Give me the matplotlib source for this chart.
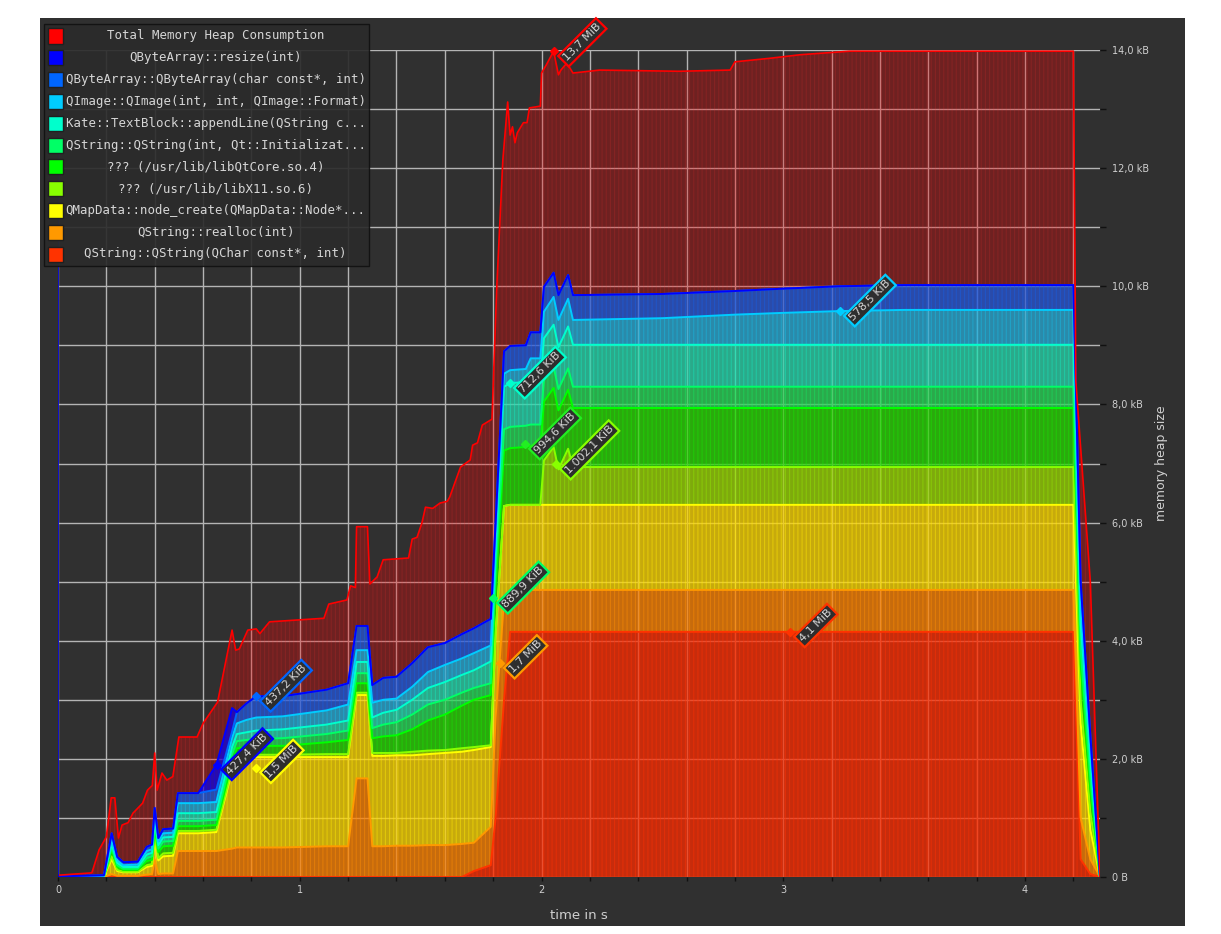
import matplotlib
matplotlib.use("Agg")
import matplotlib.pyplot as plt
import numpy as np
from matplotlib.colors import to_rgba
from matplotlib.patches import Rectangle
from matplotlib.ticker import FuncFormatter, MultipleLocator

W, H = 1221, 934
BG = "#303030"

# total heap consumption (its own snapshot times, seconds / "kB" axis units)
total_t = [0.00, 0.14, 0.17, 0.20, 0.22, 0.235, 0.25, 0.265, 0.29, 0.31,
           0.35, 0.37, 0.39, 0.40, 0.41, 0.43, 0.45, 0.475, 0.50, 0.575,
           0.60, 0.66, 0.72, 0.735, 0.75, 0.785, 0.82, 0.835, 0.875, 1.10,
           1.12, 1.195, 1.21, 1.23, 1.235, 1.28, 1.29, 1.32, 1.345, 1.45,
           1.465, 1.485, 1.505, 1.52, 1.55, 1.58, 1.61, 1.62, 1.665, 1.705,
           1.715, 1.735, 1.755, 1.795, 1.815, 1.84, 1.86, 1.87, 1.88, 1.89,
           1.90, 1.925, 1.94, 1.95, 1.995, 2.00, 2.02, 2.05, 2.07, 2.08,
           2.105, 2.13, 2.24, 2.57, 2.78, 2.80, 2.945, 3.07, 3.275, 4.20,
           4.21, 4.27, 4.31]
total_v = [0.03, 0.07, 0.46, 0.68, 1.34, 1.34, 0.66, 0.88, 0.92, 1.08,
           1.25, 1.47, 1.55, 2.10, 1.47, 1.76, 1.64, 1.70, 2.37, 2.37,
           2.60, 2.96, 4.18, 3.84, 3.86, 4.18, 4.20, 4.12, 4.32, 4.38,
           4.62, 4.69, 4.93, 4.90, 5.93, 5.93, 4.96, 5.08, 5.37, 5.40,
           5.72, 5.75, 5.99, 6.26, 6.24, 6.33, 6.36, 6.43, 6.94, 7.06,
           7.31, 7.35, 7.65, 7.75, 10.0, 12.14, 13.12, 12.56, 12.70, 12.43,
           12.60, 12.77, 12.77, 13.02, 13.05, 13.61, 13.75, 13.98, 13.58, 13.66,
           13.78, 13.61, 13.66, 13.64, 13.66, 13.80, 13.86, 13.92, 13.98, 13.98,
           8.40, 5.00, 0.00]

# snapshot times for the per-allocator layers
snap_t = [0.00, 0.19, 0.222, 0.245, 0.27, 0.33, 0.367, 0.389, 0.40, 0.415,
          0.435, 0.476, 0.496, 0.58, 0.655, 0.72, 0.74, 0.78, 0.82, 0.93,
          1.11, 1.20, 1.235, 1.28, 1.30, 1.345, 1.40, 1.465, 1.53, 1.60,
          1.67, 1.72, 1.79, 1.81, 1.845, 1.87, 1.935, 1.955, 1.995, 2.01,
          2.05, 2.07, 2.11, 2.13, 2.50, 2.80, 3.00, 3.23, 3.50, 4.20,
          4.23, 4.27, 4.31]

qchar = [0, 0, 0, 0, 0, 0, 0, 0, 0, 0,
         0, 0, 0, 0, 0, 0, 0, 0, 0, 0,
         0, 0, 0, 0, 0, 0, 0, 0, 0, 0,
         0, 0.10, 0.20, 1.00, 3.00, 4.15, 4.15, 4.15, 4.15, 4.15,
         4.15, 4.15, 4.15, 4.15, 4.15, 4.15, 4.15, 4.15, 4.15, 4.15,
         0.30, 0.05, 0]
realloc = [0, 0, 0.05, 0.02, 0.02, 0.02, 0.04, 0.05, 0.30, 0.05,
           0.06, 0.06, 0.44, 0.44, 0.44, 0.48, 0.50, 0.50, 0.50, 0.50,
           0.52, 0.52, 1.67, 1.67, 0.52, 0.52, 0.53, 0.53, 0.54, 0.54,
           0.56, 0.48, 0.65, 1.70, 1.70, 0.71, 0.71, 0.71, 0.71, 0.71,
           0.71, 0.71, 0.71, 0.71, 0.71, 0.71, 0.71, 0.71, 0.71, 0.71,
           0.70, 0.25, 0]
qmap = [0, 0.01, 0.25, 0.08, 0.06, 0.06, 0.13, 0.14, 0.32, 0.23,
        0.29, 0.30, 0.30, 0.30, 0.32, 1.32, 1.53, 1.53, 1.53, 1.53,
        1.51, 1.51, 1.41, 1.41, 1.53, 1.53, 1.53, 1.53, 1.54, 1.56,
        1.56, 1.57, 1.35, 1.40, 1.58, 1.44, 1.44, 1.44, 1.44, 1.44,
        1.44, 1.44, 1.44, 1.44, 1.44, 1.44, 1.44, 1.44, 1.44, 1.44,
        1.60, 0.50, 0]
x11 = [0, 0, 0.05, 0.02, 0.01, 0.01, 0.03, 0.03, 0.08, 0.04,
       0.05, 0.05, 0.04, 0.04, 0.04, 0.04, 0.03, 0.03, 0.04, 0.04,
       0.05, 0.05, 0.04, 0.04, 0.05, 0.05, 0.04, 0.06, 0.06, 0.05,
       0.06, 0.05, 0.03, 0.02, 0, 0, 0, 0, 0, 0.75,
       0.98, 0.60, 0.95, 0.64, 0.64, 0.64, 0.64, 0.64, 0.64, 0.64,
       0.40, 0.30, 0]
qtcore = [0, 0, 0.10, 0.05, 0.03, 0.03, 0.07, 0.07, 0.12, 0.10,
          0.12, 0.12, 0.08, 0.08, 0.08, 0.12, 0.12, 0.14, 0.15, 0.15,
          0.20, 0.24, 0.16, 0.16, 0.25, 0.28, 0.30, 0.38, 0.51, 0.60,
          0.72, 0.80, 0.85, 0.78, 0.94, 0.96, 0.98, 1.00, 1.00, 1.00,
          1.00, 1.00, 1.00, 1.00, 1.00, 1.00, 1.00, 1.00, 1.00, 1.00,
          0.60, 0.40, 0]
qstring_init = [0, 0, 0.05, 0.03, 0.02, 0.02, 0.05, 0.06, 0.08, 0.06,
                0.08, 0.08, 0.09, 0.09, 0.09, 0.12, 0.12, 0.12, 0.12, 0.13,
                0.14, 0.16, 0.17, 0.17, 0.17, 0.20, 0.22, 0.25, 0.27, 0.25,
                0.22, 0.20, 0.20, 0.30, 0.36, 0.36, 0.36, 0.36, 0.36, 0.36,
                0.36, 0.36, 0.36, 0.36, 0.36, 0.36, 0.36, 0.36, 0.36, 0.36,
                0.25, 0.20, 0]
kate = [0, 0, 0.06, 0.04, 0.03, 0.03, 0.06, 0.06, 0.08, 0.06,
        0.07, 0.07, 0.13, 0.13, 0.13, 0.12, 0.12, 0.13, 0.14, 0.15,
        0.16, 0.17, 0.19, 0.19, 0.18, 0.20, 0.21, 0.25, 0.28, 0.30,
        0.30, 0.30, 0.37, 0.30, 0.72, 0.74, 0.74, 0.74, 0.74, 0.71,
        0.71, 0.71, 0.71, 0.71, 0.71, 0.71, 0.71, 0.71, 0.71, 0.71,
        0.45, 0.30, 0]
qimage = [0, 0.01, 0.06, 0.04, 0.03, 0.04, 0.06, 0.06, 0.08, 0.06,
          0.07, 0.07, 0.17, 0.17, 0.17, 0.16, 0.18, 0.21, 0.22, 0.22,
          0.24, 0.27, 0.20, 0.20, 0.25, 0.22, 0.19, 0.22, 0.27, 0.29,
          0.28, 0.29, 0.27, 0.25, 0.22, 0.22, 0.22, 0.38, 0.38, 0.45,
          0.47, 0.46, 0.47, 0.42, 0.45, 0.51, 0.54, 0.57, 0.59, 0.59,
          0.30, 0.20, 0]
qbytearray = [0.01, 0.01, 0.12, 0.06, 0.05, 0.05, 0.07, 0.08, 0.11, 0.06,
              0.07, 0.07, 0.17, 0.17, 0.21, 0.10, 0.19, 0.28, 0.36, 0.34,
              0.35, 0.36, 0.41, 0.41, 0.30, 0.37, 0.37, 0.40, 0.42, 0.37,
              0.41, 0.42, 0.45, 0.25, 0.38, 0.41, 0.40, 0.44, 0.44, 0.42,
              0.41, 0.42, 0.40, 0.42, 0.41, 0.40, 0.41, 0.42, 0.42, 0.42,
              0.40, 0.20, 0]
resize = [0, 0, 0, 0, 0, 0, 0, 0, 0, 0,
          0, 0, 0, 0, 0.42, 0.40, 0, 0, 0, 0,
          0, 0, 0, 0, 0, 0, 0, 0, 0, 0,
          0, 0, 0, 0, 0, 0, 0, 0, 0, 0,
          0, 0, 0, 0, 0, 0, 0, 0, 0, 0,
          0, 0, 0]

# bottom-to-top stacking order
layers = [qchar, realloc, qmap, x11, qtcore, qstring_init, kate, qimage,
          qbytearray, resize]
layer_colors = ["#ff3300", "#ff9900", "#ffff00", "#88ff00", "#00ff00",
                "#00ff66", "#00ffcc", "#00ccff", "#0066ff", "#0000ff"]

legend_names = [
    "Total Memory Heap Consumption",
    "QByteArray::resize(int)",
    "QByteArray::QByteArray(char const*, int)",
    "QImage::QImage(int, int, QImage::Format)",
    "Kate::TextBlock::appendLine(QString c...",
    "QString::QString(int, Qt::Initializat...",
    "??? (/usr/lib/libQtCore.so.4)",
    "??? (/usr/lib/libX11.so.6)",
    "QMapData::node_create(QMapData::Node*...",
    "QString::realloc(int)",
    "QString::QString(QChar const*, int)",
]
legend_colors = ["#ff0000"] + layer_colors[::-1]

# peak annotations
note_labels = ["13,7 MiB", "578,5 KiB", "712,6 KiB", "994,6 KiB", "1.002,1 KiB",
               "889,9 KiB", "1,7 MiB", "437,2 KiB", "427,4 KiB", "1,5 MiB",
               "4,1 MiB"]
note_t = [2.052, 3.235, 1.87, 1.932, 2.06, 1.80, 1.828, 0.819, 0.658, 0.82, 3.028]
note_v = [13.98, 9.58, 8.36, 7.33, 6.99, 4.72, 3.62, 3.06, 1.90, 1.85, 4.15]
note_colors = ["#ff0000", "#00ccff", "#00ffcc", "#22ee22", "#88ff00",
               "#00ff66", "#ff9900", "#0066ff", "#0000ff", "#ffff00", "#ff3300"]


def fig_xy(x, y):
    return x / W, 1 - y / H


def main() -> None:
    plt.rcParams["hatch.linewidth"] = 0.8
    fig = plt.figure(figsize=(W / 100, H / 100), dpi=100, facecolor="white")
    fig.add_artist(Rectangle(fig_xy(40, 926), (1185 - 40) / W, (926 - 18) / H,
                             transform=fig.transFigure, facecolor=BG,
                             edgecolor="none", zorder=-5))

    ax = fig.add_axes([58 / W, 1 - 877 / H, (1100 - 58) / W, (877 - 50) / H])
    ax.set_facecolor(BG)

    t = np.array(snap_t)
    tops = np.cumsum(np.array(layers, dtype=float), axis=0)

    # total heap area
    ax.fill_between(total_t, 0, total_v, facecolor=to_rgba("#ff0000", 0.30),
                    edgecolor=to_rgba("#ff3030", 0.16), hatch="||||",
                    linewidth=0, zorder=1)

    for i, color in enumerate(layer_colors):
        bottom = tops[i - 1] if i > 0 else np.zeros_like(t)
        ax.fill_between(t, bottom, tops[i], facecolor=to_rgba(color, 0.62),
                        edgecolor=to_rgba(color, 0.35), hatch="||||",
                        linewidth=0, zorder=2)
    for i, color in enumerate(layer_colors):
        ax.plot(t, tops[i], color=color, lw=1.4, zorder=3)

    ax.plot(total_t, total_v, color="#ff0000", lw=1.2, zorder=4)
    ax.axvline(0, color="#0000cc", lw=1.3, zorder=4)

    ax.set_xlim(0, 4.31)
    ax.set_ylim(0, 14.0)

    ax.set_axisbelow(True)
    ax.xaxis.set_major_locator(MultipleLocator(1))
    ax.xaxis.set_minor_locator(MultipleLocator(0.2))
    ax.yaxis.set_major_locator(MultipleLocator(2))
    ax.yaxis.set_minor_locator(MultipleLocator(1))
    ax.grid(which="both", color="#b4b4b4", linewidth=1.0)
    ax.xaxis.set_major_formatter(FuncFormatter(lambda v, p: f"{v:.0f}"))
    ax.yaxis.set_major_formatter(FuncFormatter(
        lambda v, p: "0 B" if v == 0 else f"{v:.1f} kB".replace(".", ",")))
    ax.yaxis.tick_right()
    ax.tick_params(which="both", direction="out", color="#111111",
                   labelcolor="#cfcfcf", labelsize=7, length=4, width=1)
    ax.tick_params(axis="x", which="both", length=3, pad=3)
    ax.tick_params(axis="y", which="both", pad=5)
    for spine in ax.spines.values():
        spine.set_visible(False)

    ax.set_xlabel("time in s", color="#cfcfcf", fontsize=9.5)
    ax.xaxis.set_label_coords(0.5, -0.046)
    ax.xaxis.label.set_va("center")
    ax.yaxis.set_label_position("right")
    ax.set_ylabel("memory heap size", color="#cfcfcf", fontsize=9)
    ax.yaxis.set_label_coords((1162 - 58) / (1100 - 58), 0.5)
    ax.yaxis.label.set_va("center")
    ax.yaxis.label.set_ha("center")

    for label, nt, nv, color in zip(note_labels, note_t, note_v, note_colors):
        ax.plot(nt, nv, marker="D", ms=4, color=color, zorder=5, clip_on=False)
        ax.annotate(label, (nt, nv), xytext=(8, -6), textcoords="offset points",
                    rotation=45, rotation_mode="anchor", ha="left", va="center",
                    fontsize=8, color="#d8d8d8", zorder=6,
                    bbox=dict(boxstyle="square,pad=0.22", facecolor="#2e2e2e",
                              edgecolor=color, linewidth=1.6))

    # legend drawn by hand: centred monospace rows
    fig.add_artist(Rectangle(fig_xy(44, 266), (369 - 44) / W, (266 - 24) / H,
                             transform=fig.transFigure, facecolor="#2b2b2b",
                             edgecolor="#111111", linewidth=1.0, alpha=0.92,
                             zorder=10))
    for i, (name, color) in enumerate(zip(legend_names, legend_colors)):
        yc = 36 + 21.8 * i
        fig.add_artist(Rectangle(fig_xy(48, yc + 7.5), 15 / W, 15 / H,
                                 transform=fig.transFigure, facecolor=color,
                                 edgecolor="#202020", linewidth=1.0, zorder=11))
        fig.text(*fig_xy(215.5, yc), name, ha="center", va="center",
                 family="DejaVu Sans Mono", fontsize=8.9, color="#d6d6d6",
                 zorder=12)

    fig.savefig("out.png", dpi=100, facecolor="white")
    plt.close(fig)


if __name__ == "__main__":
    main()
